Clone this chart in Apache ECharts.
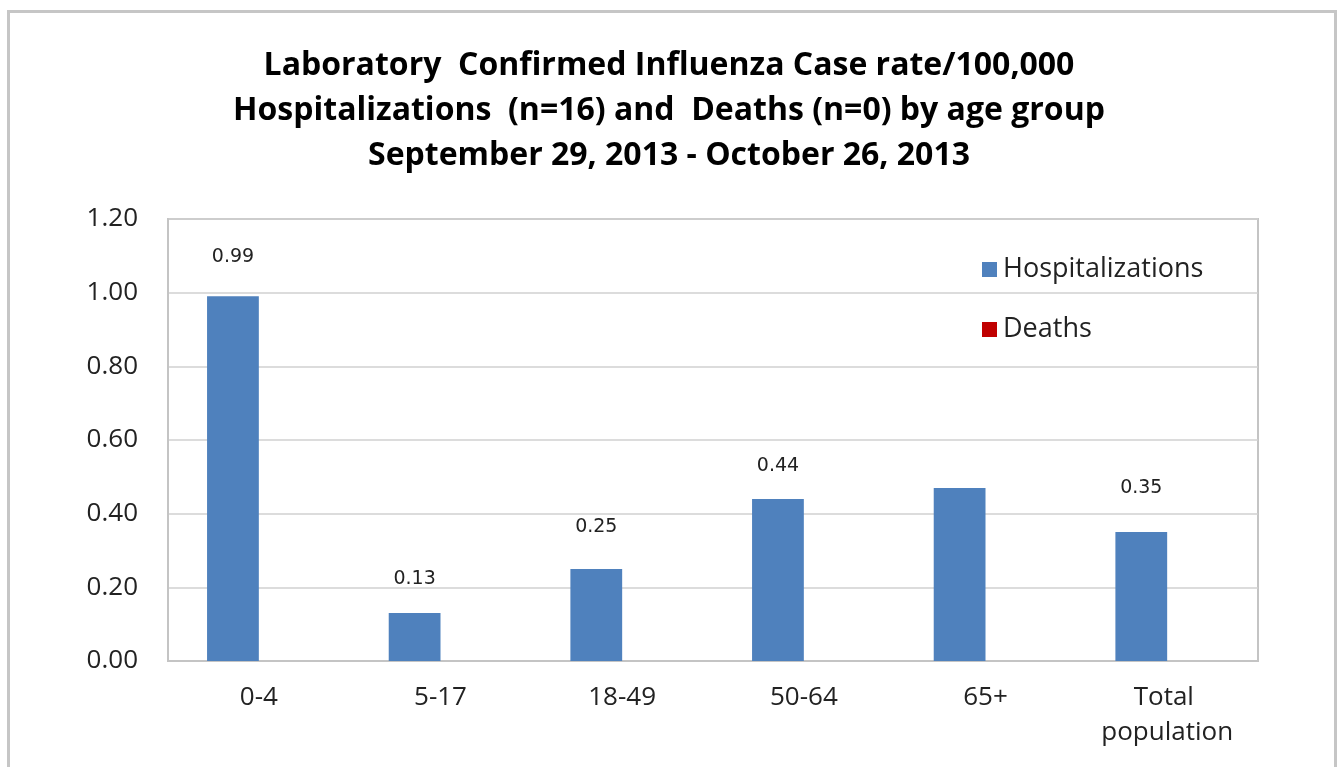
<!DOCTYPE html>
<html>
<head>
<meta charset="utf-8">
<script src="https://cdn.jsdelivr.net/npm/echarts@6/dist/echarts.min.js"></script>
<style>
html,body{margin:0;padding:0;background:#fff;}
#chart{width:1338px;height:767px;}
</style>
</head>
<body>
<div id="chart"></div>
<script>
// ---- data ----
const titleLines = [
  'Laboratory  Confirmed Influenza Case rate/100,000',
  'Hospitalizations  (n=16) and  Deaths (n=0) by age group',
  'September 29, 2013 - October 26, 2013'
];
const categories = ['0-4', '5-17', '18-49', '50-64', '65+', 'Total population'];
const seriesNames = ['Hospitalizations', 'Deaths'];
const hospitalizations = [0.99, 0.13, 0.25, 0.44, 0.47, 0.35];
const deaths = [0, 0, 0, 0, 0, 0];
const hospLabels = ['0.99', '0.13', '0.25', '0.44', null, '0.35'];
const yTicks = { min: 0, max: 1.2, interval: 0.2 };

// ---- style (layout only) ----
const labelLift = [30, 25, 32, 23, 30, 35];
const FONT = '"Open Sans", sans-serif';

const chart = echarts.init(document.getElementById('chart'), null, { renderer: 'canvas' });

const hospData = hospitalizations.map((v, i) => ({
  value: v,
  label: hospLabels[i] == null ? { show: false } : {
    show: true,
    position: 'top',
    distance: labelLift[i],
    formatter: () => hospLabels[i]
  }
}));

chart.setOption({
  backgroundColor: '#ffffff',
  animation: false,
  graphic: [{
    type: 'rect',
    shape: { x: 8.5, y: 11.5, width: 1327, height: 800 },
    style: { fill: 'none', stroke: '#c6c6c6', lineWidth: 3 },
    silent: true,
    z: -10
  }],
  title: {
    text: titleLines.join('\n'),
    left: 'center',
    top: 38,
    textStyle: {
      fontFamily: FONT,
      fontWeight: 'bold',
      fontSize: 32,
      lineHeight: 45,
      color: '#000'
    }
  },
  legend: {
    orient: 'vertical',
    left: 977,
    top: 251,
    icon: 'rect',
    itemWidth: 15,
    itemHeight: 15,
    itemGap: 33,
    data: seriesNames,
    textStyle: { fontFamily: FONT, fontSize: 27, color: '#222', padding: [0, 0, 0, 1] }
  },
  grid: {
    left: 168, right: 80, top: 219, bottom: 106,
    show: true, borderColor: '#c4c4c4', borderWidth: 2,
    containLabel: false
  },
  xAxis: {
    type: 'category',
    data: categories,
    axisLine: { show: true, lineStyle: { color: '#c4c4c4', width: 2 } },
    axisTick: { show: false },
    axisLabel: {
      fontFamily: FONT, fontSize: 26, color: '#222',
      margin: 19, lineHeight: 35,
      width: 150, overflow: 'break', interval: 0
    }
  },
  yAxis: {
    type: 'value',
    min: yTicks.min, max: yTicks.max, interval: yTicks.interval,
    axisLine: { show: true, lineStyle: { color: '#c4c4c4', width: 2 } },
    axisTick: { show: false },
    splitLine: { show: true, lineStyle: { color: '#d0d0d0', width: 1.5 } },
    axisLabel: {
      fontFamily: FONT, fontSize: 26, color: '#222', margin: 30,
      formatter: v => v.toFixed(2)
    }
  },
  series: [
    {
      name: seriesNames[0],
      type: 'bar',
      data: hospData,
      barGap: '0%',
      barCategoryGap: '43%',
      itemStyle: { color: '#4F81BD' },
      label: { fontFamily: '"DejaVu Sans", sans-serif', fontSize: 19, color: '#222' }
    },
    {
      name: seriesNames[1],
      type: 'bar',
      data: deaths,
      barGap: '0%',
      barCategoryGap: '43%',
      itemStyle: { color: '#C00000' }
    }
  ]
});
</script>
</body>
</html>
